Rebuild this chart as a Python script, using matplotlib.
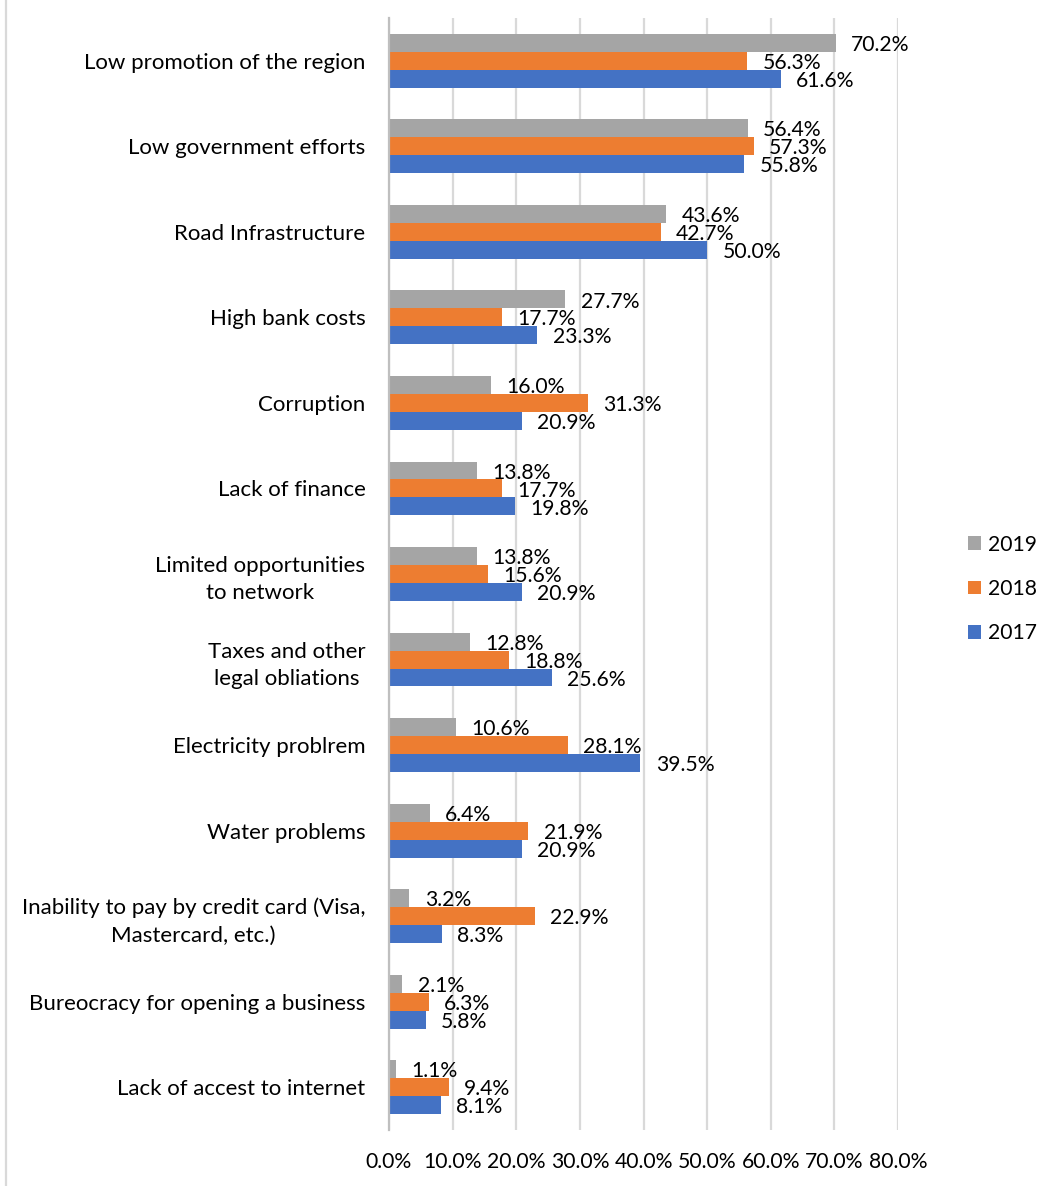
import numpy as np
import matplotlib
matplotlib.use('Agg')
import matplotlib.pyplot as plt
from matplotlib.patches import Patch
from matplotlib.lines import Line2D

plt.rcParams['font.family'] = ['Lato', 'DejaVu Sans']

# ---- data ----
categories = [
    'Low promotion of the region',
    'Low government efforts',
    'Road Infrastructure',
    'High bank costs',
    'Corruption',
    'Lack of finance',
    'Limited opportunities\nto network',
    'Taxes and other\nlegal obliations',
    'Electricity problrem',
    'Water problems',
    'Inability to pay by credit card (Visa,\nMastercard, etc.)',
    'Bureocracy for opening a business',
    'Lack of accest to internet',
]
years = ['2019', '2018', '2017']
v2019 = [70.2, 56.4, 43.6, 27.7, 16.0, 13.8, 13.8, 12.8, 10.6, 6.4, 3.2, 2.1, 1.1]
v2018 = [56.3, 57.3, 42.7, 17.7, 31.3, 17.7, 15.6, 18.8, 28.1, 21.9, 22.9, 6.3, 9.4]
v2017 = [61.6, 55.8, 50.0, 23.3, 20.9, 19.8, 20.9, 25.6, 39.5, 20.9, 8.3, 5.8, 8.1]
xticks = [0, 10, 20, 30, 40, 50, 60, 70, 80]

colors = {'2019': '#A5A5A5', '2018': '#ED7D31', '2017': '#4472C4'}
FS_CAT = 16
FS = 15.2

fig = plt.figure(figsize=(10.5, 11.86), dpi=100)
ax = fig.add_axes([389 / 1050, 1 - 1130 / 1186, (898 - 389) / 1050, (1130 - 18) / 1186])

y = np.arange(len(categories))
h = 0.21
for off, yr, vals in [(-h, '2019', v2019), (0, '2018', v2018), (h, '2017', v2017)]:
    bars = ax.barh(y + off, vals, height=h, color=colors[yr], zorder=3)
    for b, v in zip(bars, vals):
        ax.annotate(f'{v:.1f}%', (v, b.get_y() + b.get_height() / 2),
                    xytext=(11, -1.5), textcoords='offset points',
                    ha='left', va='center', fontsize=FS, color='#000000',
                    zorder=4, annotation_clip=False)

ax.set_xlim(0, 80)
ax.set_ylim(len(categories) - 0.5, -0.5)
ax.set_xticks(xticks)
ax.set_xticklabels([f'{t:.1f}%' for t in xticks], fontsize=FS)
ax.set_yticks(y)
ax.set_yticklabels(categories, fontsize=FS_CAT, multialignment='center',
                   linespacing=1.45)
ax.tick_params(axis='x', length=0, pad=16)
ax.tick_params(axis='y', length=0, pad=17)
ax.grid(axis='x', color='#D9D9D9', lw=1.6, zorder=0)
for s in ['top', 'right', 'bottom']:
    ax.spines[s].set_visible(False)
ax.spines['left'].set_color('#BFBFBF')
ax.spines['left'].set_linewidth(1.6)
ax.spines['left'].set_zorder(5)

handles = [Patch(facecolor=colors[yr], edgecolor='none', label=yr) for yr in years]
fig.legend(handles=handles, loc='center left', bbox_to_anchor=(968 / 1050, 1 - 589 / 1186),
           frameon=False, fontsize=FS, handlelength=0.62, handleheight=0.62,
           handletextpad=0.35, labelspacing=1.15, borderpad=0, borderaxespad=0)

# thin outer frame line at the left edge
fig.add_artist(Line2D([6 / 1050, 6 / 1050], [0, 1], color='#D9D9D9', lw=1.6,
                      transform=fig.transFigure))

fig.savefig('out.png', dpi=100)
